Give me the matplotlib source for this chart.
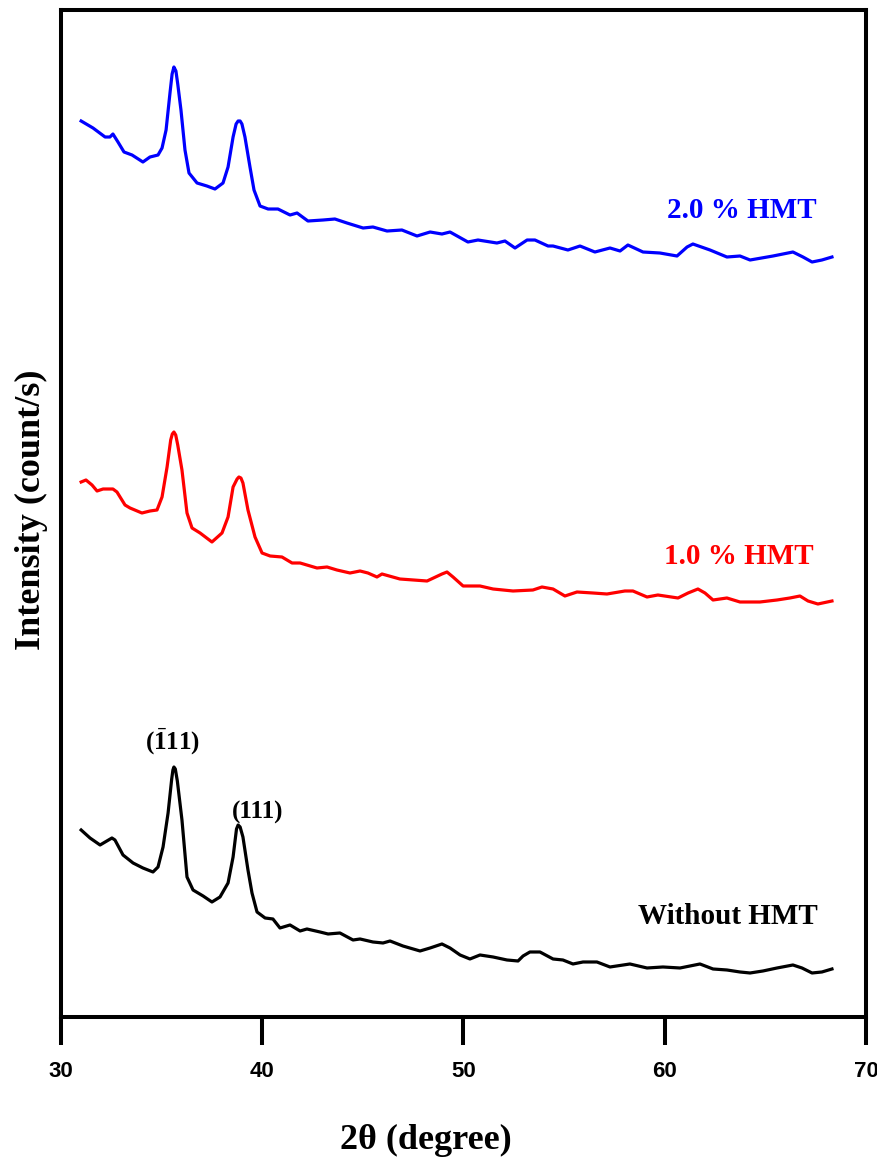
import matplotlib.pyplot as plt

plt.rcParams['font.family'] = 'Liberation Serif'
plt.rcParams['mathtext.fontset'] = 'custom'
plt.rcParams['mathtext.rm'] = 'Liberation Serif:bold'
plt.rcParams['mathtext.it'] = 'Liberation Serif:bold'
plt.rcParams['mathtext.bf'] = 'Liberation Serif:bold'

# 2.0 % HMT (blue), offset trace
tt_blue = [31.00, 31.59, 32.19, 32.43, 32.58, 32.83, 33.13, 33.53, 34.07, 34.42,
           34.82, 35.02, 35.22, 35.42, 35.52, 35.61, 35.71, 35.80, 35.96, 36.16,
           36.36, 36.76, 37.25, 37.65, 38.05, 38.30, 38.55, 38.70, 38.80, 38.90,
           38.99, 39.14, 39.39, 39.59, 39.89, 40.29, 40.78, 41.38, 41.73, 42.27,
           43.02, 43.61, 44.21, 45.01, 45.50, 46.20, 46.94, 47.69, 48.34, 48.93,
           49.33, 50.22, 50.72, 51.66, 52.06, 52.56, 53.16, 53.55, 54.20, 54.45,
           55.19, 55.79, 56.53, 57.28, 57.78, 58.17, 58.92, 59.76, 60.61, 61.11,
           61.40, 62.25, 63.09, 63.74, 64.24, 65.38, 66.37, 66.87, 67.32, 67.81,
           68.31]
int_blue = [896, 889, 880, 880, 883, 875, 865, 862, 855, 860,
            862, 869, 887, 925, 943, 950, 946, 933, 907, 867,
            844, 834, 831, 828, 834, 850, 880, 893, 896, 896,
            893, 880, 850, 827, 811, 808, 808, 802, 804, 796,
            797, 798, 794, 789, 790, 786, 787, 781, 785, 783,
            785, 775, 777, 774, 776, 769, 777, 777, 771, 771,
            767, 771, 765, 769, 766, 772, 765, 764, 761, 770,
            773, 767, 760, 761, 757, 761, 765, 760, 755, 757,
            760]

# 1.0 % HMT (red)
tt_red = [31.00, 31.24, 31.54, 31.79, 32.09, 32.58, 32.78, 33.18, 33.43, 34.02,
          34.42, 34.77, 35.02, 35.27, 35.45, 35.53, 35.61, 35.70, 35.80, 36.01,
          36.26, 36.51, 36.91, 37.50, 38.00, 38.30, 38.55, 38.75, 38.84, 38.94,
          39.04, 39.29, 39.64, 39.99, 40.39, 40.98, 41.48, 41.88, 42.72, 43.22,
          43.71, 44.36, 44.86, 45.25, 45.70, 45.95, 46.84, 48.19, 48.93, 49.18,
          49.48, 49.98, 50.82, 51.47, 52.46, 53.45, 53.90, 54.45, 55.04, 55.64,
          56.43, 57.13, 58.02, 58.42, 59.12, 59.66, 60.66, 61.16, 61.65, 62.00,
          62.40, 63.09, 63.74, 64.73, 65.58, 66.22, 66.72, 67.12, 67.61, 68.31]
int_red = [535, 537, 532, 526, 528, 528, 525, 512, 509, 504,
           506, 507, 520, 550, 577, 583, 585, 582, 572, 547,
           504, 489, 484, 475, 484, 500, 530, 538, 540, 539,
           534, 507, 480, 464, 461, 460, 454, 454, 449, 450,
           447, 444, 446, 444, 440, 443, 438, 436, 443, 445,
           440, 431, 431, 428, 426, 427, 430, 428, 421, 425,
           424, 423, 426, 426, 420, 422, 419, 424, 428, 424,
           417, 419, 415, 415, 417, 419, 421, 416, 413, 416]

# Without HMT (black)
tt_black = [31.00, 31.44, 31.94, 32.53, 32.68, 33.08, 33.58, 34.07, 34.57, 34.82,
            35.07, 35.32, 35.50, 35.56, 35.61, 35.68, 35.78, 36.01, 36.26, 36.56,
            37.06, 37.50, 37.90, 38.30, 38.55, 38.72, 38.80, 38.90, 39.04, 39.29,
            39.49, 39.74, 40.14, 40.53, 40.88, 41.38, 41.88, 42.22, 42.87, 43.27,
            43.86, 44.51, 44.86, 45.50, 46.00, 46.35, 46.99, 47.84, 48.34, 48.93,
            49.33, 49.83, 50.32, 50.82, 51.47, 52.16, 52.71, 52.96, 53.30, 53.80,
            54.45, 54.94, 55.44, 55.94, 56.63, 57.28, 58.27, 59.12, 59.91, 60.76,
            61.75, 62.40, 63.09, 63.74, 64.24, 64.88, 65.58, 66.37, 66.82, 67.32,
            67.81, 68.31]
int_black = [187, 179, 172, 179, 177, 162, 154, 149, 145, 150,
             170, 204, 238, 247, 250, 248, 236, 197, 140, 127,
             121, 115, 120, 134, 160, 188, 192, 190, 180, 147,
             124, 105, 99, 98, 89, 92, 86, 88, 85, 83,
             84, 77, 78, 75, 74, 76, 71, 66, 69, 73,
             69, 62, 58, 62, 60, 57, 56, 61, 65, 65,
             58, 57, 53, 55, 55, 50, 53, 49, 50, 49,
             53, 48, 47, 45, 44, 46, 49, 52, 49, 44,
             45, 48]

xticks = [30, 40, 50, 60, 70]

fig = plt.figure(figsize=(8.78, 11.64), dpi=100)
ax = fig.add_axes([0.0695, 0.1263, 0.9168, 0.8651])

ax.plot(tt_blue, int_blue, color='#0000ff', lw=2.3)
ax.plot(tt_red, int_red, color='#ff0000', lw=2.3)
ax.plot(tt_black, int_black, color='black', lw=2.3)

ax.text(63.84, 807, '2.0 % HMT', color='#0000ff', fontsize=21, fontweight='bold',
        ha='center', va='center')
ax.text(63.69, 460, '1.0 % HMT', color='#ff0000', fontsize=21, fontweight='bold',
        ha='center', va='center')
ax.text(63.14, 100, 'Without HMT', color='black', fontsize=21, fontweight='bold',
        ha='center', va='center')
ax.text(35.52, 275, r'$(\bar{1}11)$', fontsize=18, ha='center', va='center')
ax.text(39.79, 205, '(111)', fontsize=18, fontweight='bold', ha='center', va='center')

ax.set_xlim(30, 70)
ax.set_ylim(0, 1007)
ax.set_xticks(xticks)
ax.set_yticks([])
ax.tick_params(axis='x', direction='out', length=20, width=2.9, pad=12)
for lab in ax.get_xticklabels():
    lab.set_fontfamily('Liberation Sans')
    lab.set_fontweight('bold')
    lab.set_fontsize(16)
for sp in ax.spines.values():
    sp.set_linewidth(2.9)

fig.text(426 / 878, 1 - 1140 / 1164, '2\u03b8 (degree)', fontsize=26,
         fontweight='bold', ha='center', va='center')
fig.text(31 / 878, 1 - 510 / 1164, 'Intensity (count/s)', fontsize=26,
         fontweight='bold', ha='center', va='center', rotation=90)

fig.savefig('out.png', dpi=100)
